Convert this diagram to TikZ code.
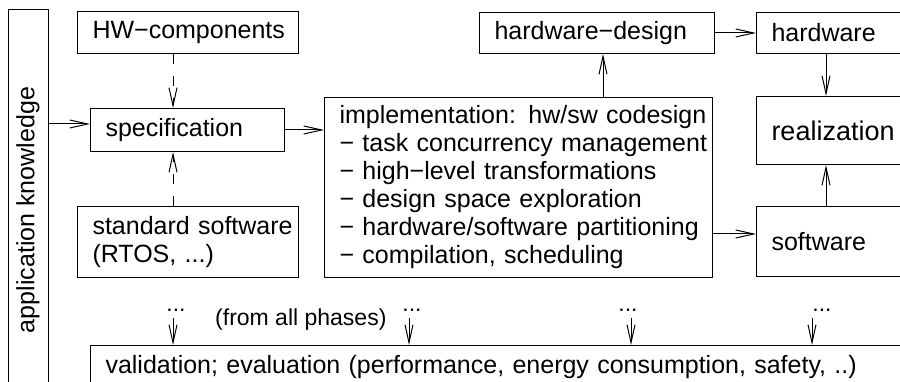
\documentclass[tikz,border=0pt]{standalone}
\usepackage{fontspec}
\setmainfont{Liberation Sans}
\usetikzlibrary{arrows.meta}
\begin{document}
\begin{tikzpicture}[x=1pt,y=-1pt,
  every node/.style={font=\fontsize{25}{28}\selectfont},
  box/.style={draw, line width=1pt, rectangle, anchor=north west, inner xsep=15pt, inner ysep=0pt, align=left},
  arr/.style={line width=1pt, -{Straight Barb[length=18pt,width=8pt]}},
  dsh/.style={arr, dash pattern=on 10pt off 12pt},
  smalltxt/.style={font=\fontsize{23}{26}\selectfont, inner sep=0pt}]
\useasboundingbox (0,0) rectangle (900,382);
\clip (0,0) rectangle (900,382);

% boxes
\node[draw, line width=1pt, rotate=90, minimum width=400pt, minimum height=40pt, inner sep=0pt] (appk) at (28,210) {application knowledge};
\node[box, text width=191pt, minimum height=42pt] (hwc) at (77,11) {\mbox{HW−components}};
\node[box, text width=164pt, minimum height=43pt] (spec) at (90,108) {specification};
\node[box, text width=191pt, minimum height=71pt] (stdsw) at (77,206) {\mbox{standard software}\\(RTOS, ...)};
\node[box, text width=358pt, minimum height=180pt] (impl) at (324,97) {\mbox{implementation: hw/sw codesign}\\
\mbox{− task concurrency management}\\
\mbox{− high−level transformations}\\
\mbox{− design space exploration}\\
\mbox{− hardware/software partitioning}\\
\mbox{− compilation, scheduling}};
\node[box, text width=205pt, minimum height=41pt] (hwd) at (479,12) {\mbox{hardware−design}};
\node[box, text width=140pt, minimum height=41pt] (hw) at (756,12) {hardware};
\node[box, text width=140pt, minimum height=68pt, font=\fontsize{27}{30}\selectfont] (real) at (756,96) {\mbox{realization}};
\node[box, text width=140pt, minimum height=70pt] (sw) at (756,206) {software};
\node[box, text width=800pt, minimum height=43pt] (val) at (90,345) {\mbox{validation; evaluation (performance, energy consumption, safety, ..)}};

% helper coordinates
\coordinate (ya) at (0,124);
\coordinate (xa) at (173,0);
\coordinate (xb) at (603,0);
\coordinate (xc) at (826,0);
\coordinate (yd) at (0,234);

% connectors
\draw[arr] (appk.south |- ya) -- (spec.west |- ya);
\draw[arr] (spec.east) -- (impl.west |- spec.east);
\draw[dsh] (hwc.south -| xa) -- (spec.north -| xa);
\draw[dsh] (stdsw.north -| xa) -- (spec.south -| xa);
\draw[arr] (impl.north -| xb) -- (hwd.south -| xb);
\draw[arr] (hwd.east) -- (hw.west |- hwd.east);
\draw[arr] (hw.south -| xc) -- (real.north -| xc);
\draw[arr] (sw.north -| xc) -- (real.south -| xc);
\draw[arr] (impl.east |- yd) -- (sw.west |- yd);

% dots and arrows to validation
\node[smalltxt, anchor=base] (d1) at (176,312) {...};
\node[smalltxt, anchor=base] (d2) at (412,312) {...};
\node[smalltxt, anchor=base] (d3) at (628,312) {...};
\node[smalltxt, anchor=base] (d4) at (822,312) {...};
\node[smalltxt, anchor=base west] (fap) at (215,325) {(from all phases)};
\coordinate (v1) at (173,318);
\coordinate (v2) at (409,318);
\coordinate (v3) at (631,318);
\coordinate (v4) at (812,318);
\draw[arr] (v1) -- (v1 |- val.north);
\draw[arr] (v2) -- (v2 |- val.north);
\draw[arr] (v3) -- (v3 |- val.north);
\draw[arr] (v4) -- (v4 |- val.north);
\end{tikzpicture}
\end{document}
